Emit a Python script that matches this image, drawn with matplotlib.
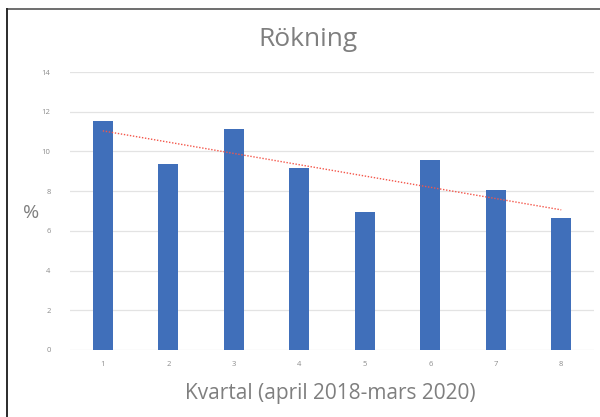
import numpy as np
import matplotlib
matplotlib.use("Agg")
import matplotlib.pyplot as plt
from matplotlib.lines import Line2D

# Data
quarters = [1, 2, 3, 4, 5, 6, 7, 8]
smoking_pct = [11.55, 9.35, 11.13, 9.16, 6.93, 9.57, 8.04, 6.65]
y_ticks = [0, 2, 4, 6, 8, 10, 12, 14]

title = "Rökning"
x_label = "Kvartal (april 2018-mars 2020)"
y_label = "%"

plt.rcParams['font.family'] = ['Open Sans', 'DejaVu Sans']

fig = plt.figure(figsize=(6, 4.17), dpi=100)
ax = fig.add_axes([0.1167, 0.1607, 0.8733, 0.6666])

ax.bar(quarters, smoking_pct, width=0.31, color='#406FBA', zorder=3)

# linear trendline, as in the original
coef = np.polyfit(quarters, smoking_pct, 1)
trend = np.polyval(coef, quarters)
ax.plot(quarters, trend, color='#F4564A', linestyle=(0, (1, 1.2)), linewidth=1.0, zorder=4)

ax.set_xlim(0.5, 8.5)
ax.set_ylim(0, 14)
ax.set_yticks(y_ticks)
ax.set_xticks(quarters)
ax.tick_params(length=0, labelsize=5.5, labelcolor='#8C8C8C')
ax.tick_params(axis='y', pad=14)
ax.tick_params(axis='x', pad=8)
ax.yaxis.grid(True, color='#E3E3E3', linewidth=0.9, zorder=0)
for s in ax.spines.values():
    s.set_visible(False)

fig.text(0.5133, 0.905, title, ha='center', va='center', fontsize=19, color='#7F7F7F')
fig.text(0.55, 0.057, x_label, ha='center', va='center', fontsize=15, color='#7F7F7F')
fig.text(0.052, 0.49, y_label, ha='center', va='center', fontsize=14, color='#7F7F7F')

# frame lines of the cropped screenshot
fig.add_artist(Line2D([6.5 / 600, 1], [1 - 8.5 / 417] * 2, transform=fig.transFigure,
                      color='#6E6E6E', linewidth=1.4))
fig.add_artist(Line2D([6.5 / 600] * 2, [0, 1 - 8.5 / 417], transform=fig.transFigure,
                      color='#2B2B2B', linewidth=1.4))

fig.savefig("out.png", dpi=100)
